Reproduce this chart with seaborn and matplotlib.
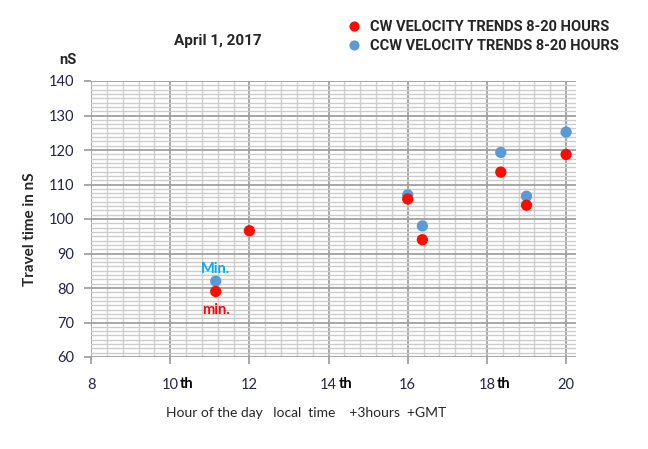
import numpy as np
import pandas as pd
import matplotlib
matplotlib.use("Agg")
import matplotlib.pyplot as plt
import seaborn as sns

# Dados
cw_hora = [11.15, 12.0, 16.0, 16.37, 18.35, 19.0, 20.0]
cw_tempo = [79.0, 96.6, 105.8, 94.0, 113.6, 104.0, 118.7]
ccw_hora = [11.15, 16.0, 16.37, 18.35, 19.0, 20.0]
ccw_tempo = [82.0, 107.0, 98.0, 119.3, 106.6, 125.2]

nome_cw = "CW VELOCITY TRENDS 8-20 HOURS"
nome_ccw = "CCW VELOCITY TRENDS 8-20 HOURS"

x_ticks = [8, 10, 12, 14, 16, 18, 20]
x_th = [10, 14, 18]
y_ticks = [60, 70, 80, 90, 100, 110, 120, 130, 140]

# CCW primeiro para o vermelho ficar por cima
dados = pd.DataFrame({
    "hora": ccw_hora + cw_hora,
    "tempo": ccw_tempo + cw_tempo,
    "serie": [nome_ccw] * len(ccw_hora) + [nome_cw] * len(cw_hora),
})

sns.set_style("white")
plt.rcParams["font.family"] = ["Lato", "DejaVu Sans"]
fonte_titulo = ["Roboto", "DejaVu Sans"]

fig = plt.figure(figsize=(6.48, 4.49), dpi=100)
ax = fig.add_axes([91 / 648, 1 - 357 / 449, (576 - 91) / 648, (357 - 81) / 449])

# Grade
for h in np.arange(8, 20.01, 0.4):
    maior = abs((h - 8) % 2) < 1e-6 or abs((h - 8) % 2 - 2) < 1e-6
    ax.axvline(h, color="#a0a0a0" if maior else "#d0d0d0", lw=1.3 if maior else 1.0, zorder=1)
for v in np.arange(60, 140.01, 1.25):
    maior = abs(v % 10) < 1e-6
    ax.axhline(v, color="#a0a0a0" if maior else "#cccccc", lw=1.3 if maior else 1.0, zorder=1)

sns.scatterplot(data=dados, x="hora", y="tempo", hue="serie",
                hue_order=[nome_cw, nome_ccw],
                palette={nome_cw: "#ff0c00", nome_ccw: "#5b9bd5"},
                s=66, edgecolor="none", zorder=3, ax=ax)

ax.set_xlim(8, 20.25)
ax.set_ylim(60, 140)
for lado in ["top", "right", "left", "bottom"]:
    ax.spines[lado].set_visible(False)

ax.set_xticks(x_ticks)
ax.set_xticklabels([str(t) for t in x_ticks])
ax.set_yticks(y_ticks)
ax.tick_params(axis="x", length=5, width=1.3, color="#a0a0a0", pad=10,
               labelsize=10.5, labelcolor="#24244a", direction="out", bottom=True)
ax.tick_params(axis="y", length=5, width=1.3, color="#a0a0a0", pad=7,
               labelsize=10.5, labelcolor="#24244a", direction="out", left=True)

for t in x_th:
    ax.annotate("th", xy=(t, 0), xycoords=("data", "axes fraction"),
                xytext=(7, -19.5), textcoords="offset points",
                ha="left", va="center", fontsize=10.5, fontweight="bold", color="black")

ax.set_xlabel("")
ax.set_ylabel("")

# Textos
ax.text(11.15, 85.5, "Min.", color="#00b0f0", fontsize=10.5, fontweight="bold",
        ha="center", va="center", zorder=4)
ax.text(11.15, 73.5, "min.", color="#ff0000", fontsize=10.5, fontweight="bold",
        ha="center", va="center", zorder=4)

fig.text(218 / 648, 1 - 41 / 449, "April 1, 2017", ha="center", va="center",
         fontsize=11, fontweight="bold", family=fonte_titulo)
fig.text(68 / 648, 1 - 60 / 449, "nS", ha="center", va="center",
         fontsize=10.5, fontweight="bold", family=fonte_titulo)
fig.text(30 / 648, 1 - 229 / 449, "Travel time in nS", rotation=90, ha="center", va="center",
         fontsize=11, fontweight="bold")
fig.text(306 / 648, 1 - 413 / 449, "Hour of the day   local  time    +3hours  +GMT",
         ha="center", va="center", fontsize=10)

# Legenda
handles, labels = ax.get_legend_handles_labels()
ax.legend(handles, labels, loc="upper left", bbox_to_anchor=(334 / 648, 1 - 14 / 449),
          bbox_transform=fig.transFigure, frameon=False, handletextpad=0.1,
          borderaxespad=0, labelspacing=0.35, markerscale=0.9,
          prop={"family": fonte_titulo, "weight": "bold", "size": 10.5})

plt.savefig("out.png", dpi=100)
